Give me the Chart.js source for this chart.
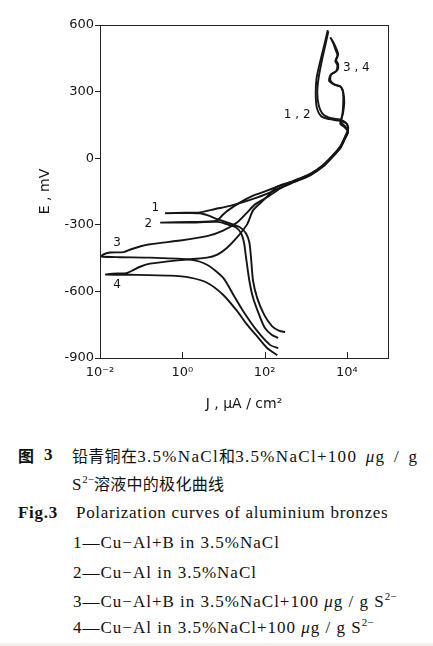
<!DOCTYPE html>
<html>
<head>
<meta charset="utf-8">
<script src="https://cdn.jsdelivr.net/npm/chart.js@4.4.0/dist/chart.umd.min.js"></script>
<style>
  html, body { margin: 0; padding: 0; background: #fff; }
  body { width: 433px; height: 646px; position: relative; overflow: hidden; }
  #wrap { position: absolute; left: 0; top: 0; width: 433px; height: 420px; }
  .cap { position: absolute; font-family: "Liberation Serif", "Noto Sans CJK SC", serif; font-size: 17px;
         letter-spacing: 0.7px; line-height: 20px; color: #111; white-space: nowrap; }
  .head { letter-spacing: 1.3px; word-spacing: 3px; }
  .item { letter-spacing: 1px; }
  .zh { font-family: "Noto Sans CJK SC", sans-serif; font-size: 16px; letter-spacing: 0.3px; }
  .cap sup { font-size: 11px; position: relative; top: -7px; vertical-align: baseline; letter-spacing: 0; }
  .strip { position: absolute; left: 0; top: 643px; width: 433px; height: 3px; background: #f6f1e2; }
</style>
</head>
<body>
<div id="wrap"><canvas id="chart" width="433" height="420"></canvas></div>

<div class="cap" style="top:445px;left:18px"><b class="zh" style="font-weight:700">图</b></div>
<div class="cap" style="top:445px;left:44px"><b>3</b></div>
<div class="cap head" style="top:445px;left:72px"><span class="zh">铅青铜在</span>3.5%NaCl<span class="zh">和</span>3.5%NaCl+100 <i>μ</i>g / g</div>
<div class="cap" style="top:473px;left:72px">S<sup>2−</sup><span class="zh">溶液中的极化曲线</span></div>
<div class="cap" style="top:503px;left:18px"><b>Fig.3</b></div>
<div class="cap" style="top:503px;left:76px">Polarization curves of aluminium bronzes</div>
<div class="cap item" style="top:533px;left:73px">1—Cu−Al+B in 3.5%NaCl</div>
<div class="cap item" style="top:563px;left:73px">2—Cu−Al in 3.5%NaCl</div>
<div class="cap item" style="top:592px;left:73px">3—Cu−Al+B in 3.5%NaCl+100 <i>μ</i>g / g S<sup>2−</sup></div>
<div class="cap item" style="top:618px;left:73px">4—Cu−Al in 3.5%NaCl+100 <i>μ</i>g / g S<sup>2−</sup></div>
<div class="strip"></div>

<script>
// current density J (µA/cm²) and potential E (mV), cathodic end -> tip -> anodic end
const curve1J = [316, 229, 151, 98, 66, 52.5, 46.8, 42.7, 35.5, 25.7, 14.5, 7.4, 4.2, 2.7, 1.17, 0.38,
  1.17, 2.7, 6.3, 14.5, 44.7, 138, 500, 1290, 2690, 4680, 6920, 9120, 10700, 10200, 7240, 4170, 2690, 2070, 1910, 2070, 2510, 3070, 3550];
const curve1E = [-783, -778, -756, -706, -629, -552, -448, -380, -339, -312, -294, -276, -258, -248, -247, -248,
  -246, -244, -229, -215, -188, -154, -104, -72, -32, 14, 50, 95, 126, 153, 173, 180, 196, 239, 297, 365, 446, 518, 572];

const curve2J = [214, 151, 102, 74, 52.5, 42.7, 35.5, 31.6, 27, 20.4, 12.9, 7.4, 1.55, 0.29,
  1.55, 6.6, 9.3, 12.9, 25.7, 52.5, 102, 240, 500, 1290, 2690, 4680, 6920, 9120, 10700, 9660, 6530, 3720, 2380, 1850, 1750, 1850, 2320, 2900, 3430];
const curve2E = [-810, -796, -765, -706, -629, -552, -448, -380, -339, -312, -299, -287, -290, -290,
  -287, -283, -258, -235, -199, -169, -149, -124, -102, -70, -29, 16, 54, 99, 131, 158, 169, 176, 189, 230, 297, 365, 446, 518, 577];

const curve3J = [214, 138, 66, 30, 17.4, 9.8, 4.0, 1.55, 0.165, 0.031, 0.011,
  0.0118, 0.0175, 0.038, 0.057, 0.15, 0.89, 4.0, 9.8, 21.4, 38, 59, 115, 240, 500, 1290, 2690, 4680, 6920, 9120, 10700,
  8650, 6920, 7760, 8130, 8130, 7240, 5250, 3720, 3980, 5500, 5890, 5250, 5890, 5250, 4680, 3980];
const curve3E = [-855, -842, -778, -688, -615, -538, -480, -457, -448, -446, -443,
  -434, -425, -423, -410, -389, -371, -351, -326, -290, -244, -208, -176, -136, -109, -77, -36, 9, 45, 90, 122,
  140, 155, 194, 243, 297, 320, 329, 347, 374, 392, 419, 437, 464, 491, 518, 545];

const curve4J = [204, 115, 66, 38, 21.4, 9.8, 4.0, 1.55, 0.50, 0.054, 0.014,
  0.0196, 0.043, 0.060, 0.094, 0.165, 0.89, 4.0, 7.1, 12.3, 21.4, 38, 52.5, 93, 214, 500, 1290, 2690, 4680, 6920, 9120, 10700,
  9120, 7240, 8130, 8650, 8130, 6920, 4930, 3980, 4170, 5890, 6170, 5500, 6170, 5500, 4680, 4170];
const curve4E = [-887, -855, -803, -751, -688, -615, -561, -538, -529, -525, -524,
  -520, -518, -507, -489, -475, -459, -448, -434, -403, -357, -297, -235, -190, -126, -106, -74, -34, 11, 47, 92, 117,
  144, 162, 207, 252, 297, 324, 333, 351, 378, 396, 423, 441, 468, 495, 523, 536];

const xTickValues = [0.01, 1, 100, 10000];
const xTickLabels = ['10⁻²', '10⁰', '10²', '10⁴'];
const yTickValues = [600, 300, 0, -300, -600, -900];
const yTickLabels = ['600', '300', '0', '-300', '-600', '-900'];

const curveLabels = [
  { text: '1', j: 0.22, e: -226 },
  { text: '2', j: 0.15, e: -294 },
  { text: '3', j: 0.026, e: -380 },
  { text: '4', j: 0.026, e: -570 },
  { text: '1 , 2', j: 620, e: 194 },
  { text: '3 , 4', j: 17000, e: 405 },
];

const ink = '#151515';
const tickFont = { family: 'DejaVu Sans', size: 13 };

function toPoints(js, es) {
  return js.map((j, i) => ({ x: j, y: es[i] }));
}

function curveDataset(js, es) {
  return {
    data: toPoints(js, es),
    showLine: true,
    borderColor: ink,
    borderWidth: 1.9,
    pointRadius: 0,
    tension: 0.25,
    fill: false,
  };
}

const framePlugin = {
  id: 'frame',
  afterDraw(chart) {
    const { ctx, chartArea: a, scales: { x, y } } = chart;
    ctx.save();
    ctx.strokeStyle = '#222';
    ctx.lineWidth = 1;
    ctx.strokeRect(Math.round(a.left) + 0.5, Math.round(a.top) + 0.5, Math.round(a.right - a.left), Math.round(a.bottom - a.top));
    ctx.beginPath();
    xTickValues.slice(1).forEach((v) => {
      const px = Math.round(x.getPixelForValue(v)) + 0.5;
      ctx.moveTo(px, a.bottom);
      ctx.lineTo(px, a.bottom - 6);
    });
    ctx.stroke();

    ctx.font = '12px "DejaVu Sans"';
    ctx.fillStyle = ink;
    ctx.textAlign = 'center';
    ctx.textBaseline = 'middle';
    curveLabels.forEach((l) => ctx.fillText(l.text, x.getPixelForValue(l.j), y.getPixelForValue(l.e)));
    ctx.restore();
  },
};

new Chart(document.getElementById('chart'), {
  type: 'scatter',
  data: {
    datasets: [
      curveDataset(curve1J, curve1E),
      curveDataset(curve2J, curve2E),
      curveDataset(curve3J, curve3E),
      curveDataset(curve4J, curve4E),
    ],
  },
  options: {
    responsive: false,
    animation: false,
    events: [],
    layout: { padding: { left: 0, right: 45, top: 25, bottom: 0 } },
    plugins: { legend: { display: false }, tooltip: { enabled: false } },
    scales: {
      x: {
        type: 'logarithmic',
        min: 0.01,
        max: 100000,
        afterBuildTicks(scale) { scale.ticks = xTickValues.map((v) => ({ value: v })); },
        afterFit(scale) { scale.height = 62; },
        grid: { display: false, drawTicks: false },
        border: { display: false },
        ticks: {
          autoSkip: false,
          maxRotation: 0,
          padding: 7,
          color: ink,
          font: tickFont,
          callback: (value, index) => xTickLabels[index],
        },
        title: {
          display: true,
          text: 'J , µA / cm²',
          color: ink,
          font: { family: 'DejaVu Sans', size: 14 },
          padding: { top: 0, bottom: 7 },
        },
      },
      y: {
        type: 'linear',
        min: -900,
        max: 600,
        afterBuildTicks(scale) { scale.ticks = yTickValues.map((v) => ({ value: v })); },
        afterFit(scale) { scale.width = 100; },
        grid: { display: true, drawOnChartArea: false, drawTicks: true, tickLength: 5, color: '#222' },
        border: { display: false },
        ticks: {
          padding: 1,
          color: ink,
          font: tickFont,
          callback: (value, index) => yTickLabels[index],
        },
        title: {
          display: true,
          text: 'E , mV',
          color: ink,
          font: { family: 'DejaVu Sans', size: 14 },
          padding: { top: 37, bottom: 0 },
        },
      },
    },
  },
  plugins: [framePlugin],
});
</script>
</body>
</html>
